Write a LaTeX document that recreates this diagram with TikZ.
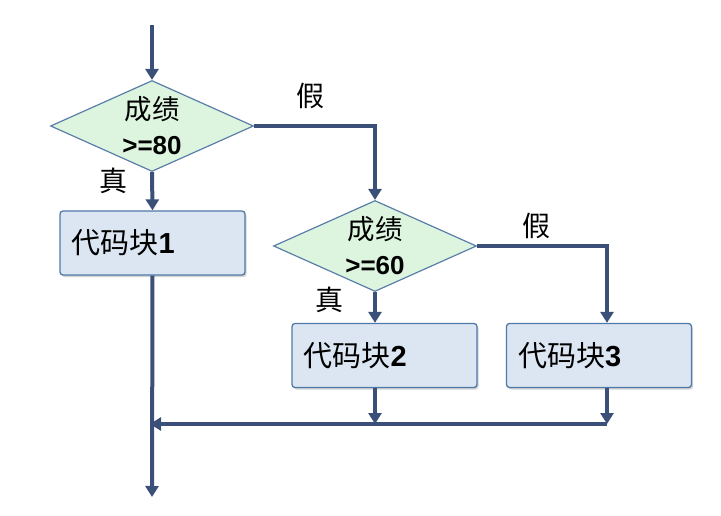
\documentclass[tikz,border=0pt]{standalone}
\usepackage{fontspec}
\setmainfont{Liberation Sans}
\newfontfamily\cjk{Noto Sans CJK SC}
\usetikzlibrary{shapes.geometric,arrows.meta,shadows}
\definecolor{flow}{HTML}{3B5078}
\definecolor{dfill}{HTML}{DDF5DF}
\definecolor{dline}{HTML}{5A7EA8}
\definecolor{bfill}{HTML}{DCE6F2}
\definecolor{bline}{HTML}{4F79A8}
\newcommand{\cjkbig}{\cjk\fontsize{27.5}{35}\selectfont}
\tikzset{
  decision/.style={diamond, draw=dline, line width=1.2pt, fill=dfill, inner sep=0pt,
    minimum width=203pt, minimum height=91pt, aspect=2.25, align=center,
    font=\fontsize{26}{35}\selectfont},
  block/.style={rectangle, rounded corners=3pt, draw=bline, line width=1.3pt, fill=bfill,
    minimum width=185pt, minimum height=64pt, text width=162pt, align=left,
    font=\fontsize{29}{30}\selectfont,
    drop shadow={shadow xshift=1.5pt, shadow yshift=-2pt, opacity=0.35, fill=gray}},
  flowline/.style={draw=flow, line width=4pt},
  arr/.style={flowline, -{Triangle[width=13pt,length=11pt]}},
  lab/.style={font=\cjk\fontsize{28}{30}\selectfont, inner sep=0pt}
}
\begin{document}
\begin{tikzpicture}[x=1pt,y=-1pt]
\useasboundingbox (0,0) rectangle (721,516);
\node[decision] (d1) at (152,126) {{\cjkbig 成绩}\\\textbf{>=80}};
\node[decision] (d2) at (375,246) {{\cjkbig 成绩}\\\textbf{>=60}};
\node[block] (b1) at (152.5,243) {{\cjk 代码块}\textbf{1}};
\node[block] (b2) at (384.5,355.5) {{\cjk 代码块}\textbf{2}};
\node[block] (b3) at (599,355.5) {{\cjk 代码块}\textbf{3}};
\coordinate (start) at (152,25);
\coordinate (end) at (152,497);
\coordinate (c2) at (607,246);
\coordinate (j) at (152,424);
\coordinate (j2) at (375,424);
\coordinate (j3) at (607,424);
\node[lab] (t1) at (113,181) {真};
\node[lab] (f1) at (310,96) {假};
\node[lab] (t2) at (329,300) {真};
\node[lab] (f2) at (536,226) {假};
\draw[arr] (start) -- (d1.north);
\draw[arr] (d1.south) -- (b1.north);
\draw[arr] (d1.east) -| (d2.north);
\draw[arr] (d2.south) -- (d2.south |- b2.north);
\draw[arr] (d2.east) -- (c2) -- (c2 |- b3.north);
\draw[arr] (b1.south) -- (end);
\draw[arr] (j2 |- b2.south) -- (j2);
\draw[arr] (j3 |- b3.south) -- (j3);
\draw[flowline] (j3) -- (j2);
\draw[arr] (j2) -- ([xshift=-2pt]j);
\end{tikzpicture}
\end{document}
